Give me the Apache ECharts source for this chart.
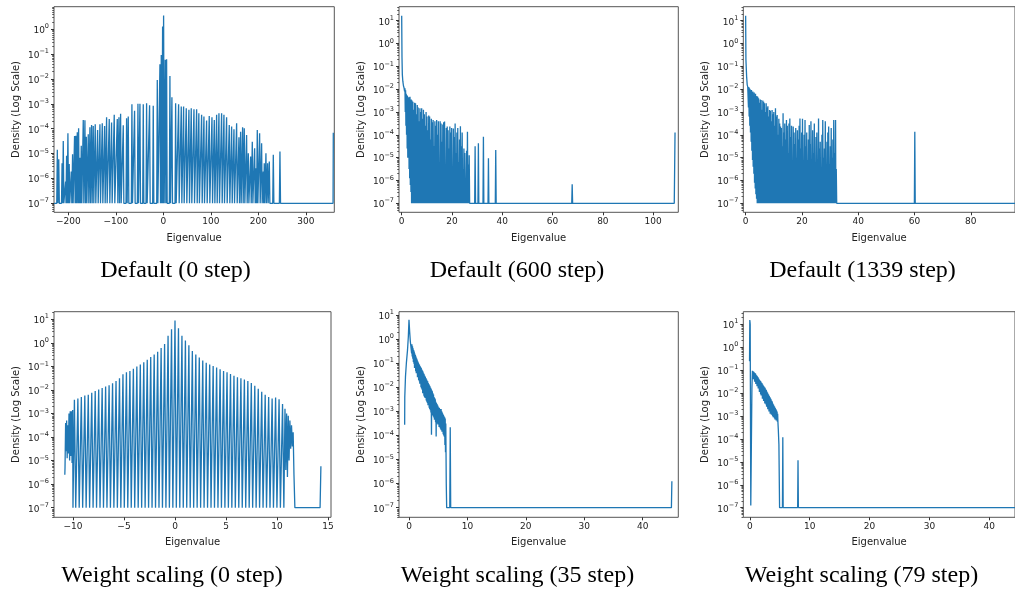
<!DOCTYPE html>
<html><head><meta charset="utf-8">
<script src="https://cdn.jsdelivr.net/npm/echarts@6/dist/echarts.min.js"></script>
<style>html,body{margin:0;padding:0;background:#fff}#c{width:1015px;height:592px}</style>
</head><body><div id="c"></div>
<script>
// ---------- DATA (eigenvalue, log10 density); density floor = 1e-7 ----------
const FLOOR = -7;
const captions = ['Default (0 step)','Default (600 step)','Default (1339 step)',
  'Weight scaling (0 step)','Weight scaling (35 step)','Weight scaling (79 step)'];

// Panel 1: Default (0 step)
const p1XTicks = [-200,-100,0,100,200,300];
const p1YTicks = [-7,-6,-5,-4,-3,-2,-1,0];
const p1Line = [[-230,-7],[357.4,-7],[357.9,-4.16]];
const p1Spikes = [[-223,-4.85],[-220,-5.23],[-213,-5.39],[-210.5,-4.49],[-205.6,-6.13],[-203.5,-5.09],[-200.7,-4.18],[-198,-5.42],[-193.7,-5.72],[-190.9,-5.03],
 [-186.7,-4.29],[-183.9,-4.28],[-181,-4.14],[-178.2,-3.98],[-175.4,-5.17],[-172.6,-4.69],[-168.4,-3.65],[-164.9,-3.66],[-162,-4.32],[-157.9,-4.22],
 [-154.4,-3.94],[-150.9,-3.85],[-147.4,-3.89],[-143.2,-3.82],[-138.2,-4.05],[-133.3,-3.82],[-128.4,-3.78],[-123.5,-3.89],[-119.3,-3.54],[-113.7,-3.61],
 [-108.8,-3.75],[-103.2,-3.44],[-96.8,-3.61],[-93.3,-3.54],[-89.8,-3.40],[-84.2,-3.86],[-77.2,-3.58],[-73.7,-3.51],[-66,-3.02],[-60.4,-3.28],
 [-53.3,-3.0],[-49.1,-3.0],[-42.1,-3.02],[-35.1,-2.98],[-28.8,-3.06],[-21.1,-3.08],[-12.6,-2.04],[-7,-1.41],[-4.2,-1.03],[-1.4,0.11],
 [0.7,0.55],[4.2,-1.23],[7,-1.21],[14,-1.88],[18.2,-2.73],[26,-2.98],[32.3,-3.02],[37.9,-3.11],[42.8,-3.11],[48.4,-3.18],
 [54,-3.24],[58.9,-3.18],[64.6,-3.22],[70.2,-3.22],[74.9,-3.38],[80.7,-3.44],[85.6,-3.51],[91.2,-3.67],[96.8,-3.49],[102.5,-3.54],
 [107.4,-3.65],[112.3,-3.44],[117.2,-3.38],[122.8,-3.38],[127.7,-3.44],[133.3,-3.54],[138.9,-3.85],[143.9,-3.91],[148.8,-4.02],[154.4,-3.78],
 [159.3,-4.34],[162.8,-4.12],[167,-3.94],[170.5,-3.98],[175.4,-4.25],[179,-4.99],[183.9,-5.12],[187.4,-4.52],[192.3,-4.79],[195.1,-5.59],
 [197.9,-4.05],[202.8,-4.18],[207,-4.58],[210.5,-5.72],[212.6,-5.39],[216.1,-4.99],[219.6,-5.39],[223.2,-5.32],[231.6,-5.05],[245.6,-4.92]];

// Panel 2: Default (600 step)
const p2XTicks = [0,20,40,60,80,100];
const p2YTicks = [-7,-6,-5,-4,-3,-2,-1,0,1];
const p2Line = [[0,1.22],[0.12,-0.6],[0.25,-1.35],[0.45,-1.65],[0.7,-1.85],[0.95,-1.95],[1.15,-2.1],[1.3,-1.96],[1.42,-3.0],[1.55,-2.05],
 [1.68,-3.6],[1.8,-2.2],[1.93,-4.0],[2.05,-2.26],[2.18,-4.6],[2.3,-2.3],[2.43,-5.0],[2.55,-2.4],[2.68,-4.4],[2.8,-2.35],
 [2.93,-5.5],[3.05,-2.5],[3.18,-5.9],[3.3,-2.33],[3.43,-6.2],[3.55,-2.6],[3.68,-6.5],[3.8,-2.45],[3.93,-6.9],[108.4,-7],[108.7,-3.9]];
const p2Spikes = [[4.1,-2.5],[4.45,-2.55],[4.8,-2.9],[5.15,-2.6],[5.5,-2.62],[5.85,-3.1],[6.2,-2.69],[6.55,-2.8],[6.9,-3.4],[7.25,-2.84],
 [7.6,-3.0],[7.95,-2.84],[8.3,-3.3],[8.65,-2.9],[9.0,-3.1],[9.35,-3.6],[9.7,-3.0],[10.05,-3.2],[10.4,-3.8],[10.75,-3.15],
 [11.1,-3.2],[11.45,-4.2],[11.8,-3.3],[12.15,-3.45],[12.5,-3.35],[12.85,-4.5],[13.2,-3.4],[13.55,-3.6],[13.9,-3.35],[14.25,-4.0],
 [14.6,-3.4],[14.95,-5.2],[15.3,-3.4],[15.65,-3.5],[16.0,-4.3],[16.35,-3.55],[16.7,-3.45],[17.05,-3.42],[17.4,-5.5],[17.75,-3.7],
 [18.1,-3.64],[18.45,-3.8],[18.8,-4.6],[19.15,-3.64],[19.5,-3.9],[19.85,-3.7],[20.2,-5.8],[20.55,-3.72],[20.9,-4.1],[21.25,-3.5],
 [21.6,-4.8],[21.95,-3.9],[22.3,-3.7],[22.65,-5.2],[23.0,-4.2],[23.35,-3.62],[23.7,-4.5],[24.05,-3.9],[24.4,-5.5],[24.75,-4.6],
 [25.1,-4.8],[25.45,-5.9],[25.8,-4.7],[26.15,-3.86],[26.5,-5.3],[26.85,-4.9],
 [29.2,-4.5],[30.5,-4.37],[32.5,-4.08],[34.5,-5.03],[37.4,-4.66],[67.8,-6.17]];

// Panel 3: Default (1339 step)
const p3XTicks = [0,20,40,60,80];
const p3YTicks = [-7,-6,-5,-4,-3,-2,-1,0,1];
const p3Line = [[0,1.22],[0.1,-0.7],[0.2,-1.0],[0.35,-1.45],[0.55,-1.8],[0.75,-1.9],[0.9,-1.82],[1.0,-2.8],[1.12,-1.9],[1.24,-3.2],
 [1.36,-1.96],[1.48,-3.6],[1.6,-2.0],[1.72,-3.9],[1.84,-2.1],[1.96,-4.3],[2.08,-2.04],[2.2,-4.7],[2.32,-2.15],[2.44,-5.1],
 [2.56,-2.1],[2.68,-5.4],[2.8,-2.25],[2.92,-5.7],[3.04,-2.15],[3.16,-6.1],[3.28,-2.3],[3.4,-6.35],[3.52,-2.2],[3.64,-6.6],
 [3.76,-2.35],[3.88,-6.8],[4.0,-2.3],[4.12,-7],[95.7,-7]];
const p3Spikes = [[4.3,-2.33],[4.6,-2.4],[4.9,-2.6],[5.2,-2.45],[5.5,-2.47],[5.8,-2.9],[6.1,-2.5],[6.4,-2.55],[6.7,-2.62],[7.0,-3.0],
 [7.3,-2.62],[7.6,-2.8],[7.9,-2.75],[8.2,-3.2],[8.5,-2.91],[8.8,-2.95],[9.1,-3.4],[9.4,-2.91],[9.7,-3.1],[10.0,-3.0],
 [10.3,-3.6],[10.6,-2.84],[10.9,-3.2],[11.2,-3.13],[11.5,-4.0],[11.8,-3.3],[12.1,-3.5],[12.4,-3.64],[12.7,-3.7],[13.0,-4.5],
 [13.3,-3.06],[13.6,-3.9],[13.9,-3.5],[14.2,-4.2],[14.5,-3.35],[14.8,-3.6],[15.1,-4.8],[15.4,-3.5],[15.7,-3.28],[16.0,-4.1],
 [16.3,-3.6],[16.6,-5.2],[16.9,-3.64],[17.2,-3.9],[17.5,-4.4],[17.8,-3.7],[18.1,-5.0],[18.4,-3.8],[18.7,-4.2],[19.0,-3.6],
 [19.3,-3.28],[19.6,-4.6],[19.9,-3.9],[20.2,-3.3],[20.5,-5.4],[20.8,-4.0],[21.1,-3.35],[21.4,-4.5],[21.7,-3.9],[22.0,-5.1],
 [22.3,-4.2],[22.6,-3.57],[22.9,-4.4],[23.2,-3.4],[23.5,-5.6],[23.8,-3.8],[24.1,-4.8],[24.4,-3.5],[24.7,-5.2],[25.0,-4.1],
 [25.3,-3.9],[25.6,-5.5],[25.9,-3.28],[26.2,-4.6],[26.5,-4.3],[26.8,-5.8],[27.1,-4.0],[27.4,-3.35],[27.7,-5.0],[28.0,-4.6],
 [28.3,-3.4],[28.6,-5.6],[28.9,-4.3],[29.2,-3.9],[29.5,-3.64],[29.8,-5.3],[30.1,-4.5],[30.4,-3.7],[30.7,-5.0],[31.0,-4.2],
 [31.3,-3.35],[31.6,-4.8],[31.95,-3.35],[32.2,-5.5],[60.1,-3.86]];

// Panel 4: Weight scaling (0 step)
const p4XTicks = [-10,-5,0,5,10,15];
const p4YTicks = [-7,-6,-5,-4,-3,-2,-1,0,1];
const p4Line = [[-10.8,-5.6],[-10.78,-5.3],[-10.72,-3.4],[-10.67,-4.6],[-10.62,-3.3],[-10.57,-4.9],[-10.51,-3.5],[-10.45,-4.7],[-10.39,-3.0],[-10.33,-5.0],
 [-10.27,-2.9],[-10.21,-4.8],[-10.15,-2.9],[-10.09,-5.1],[-10.03,-2.85],[-10.0,-7],
 [10.78,-2.8],[10.86,-5.4],[10.94,-3.0],[11.02,-5.7],[11.1,-3.1],[11.18,-5.0],[11.26,-3.3],[11.34,-4.5],[11.42,-3.5],[11.5,-4.4],
 [11.58,-3.8],[11.66,-5.6],[11.75,-7],[14.22,-7],[14.3,-5.24]];
const p4Comb = [[-9.86,-2.42],[-9.52,-2.36],[-9.18,-2.3],[-8.84,-2.24],[-8.5,-2.2],[-8.16,-2.12],[-7.82,-2.05],[-7.48,-1.98],[-7.14,-1.92],[-6.8,-1.85],
 [-6.46,-1.8],[-6.12,-1.72],[-5.78,-1.62],[-5.44,-1.5],[-5.1,-1.33],[-4.76,-1.25],[-4.42,-1.2],[-4.08,-1.1],[-3.74,-1.0],[-3.4,-0.92],
 [-3.06,-0.82],[-2.72,-0.72],[-2.38,-0.6],[-2.04,-0.5],[-1.7,-0.38],[-1.36,-0.22],[-1.02,-0.05],[-0.68,0.3],[-0.34,0.58],[0,0.95],
 [0.34,0.62],[0.68,0.3],[1.02,0.1],[1.36,-0.1],[1.7,-0.35],[2.04,-0.5],[2.38,-0.62],[2.72,-0.75],[3.06,-0.85],[3.4,-0.92],
 [3.74,-0.98],[4.08,-1.05],[4.42,-1.12],[4.76,-1.2],[5.1,-1.25],[5.44,-1.32],[5.78,-1.4],[6.12,-1.46],[6.46,-1.5],[6.8,-1.56],
 [7.14,-1.62],[7.48,-1.7],[7.82,-1.82],[8.16,-1.95],[8.5,-2.08],[8.84,-2.2],[9.18,-2.3],[9.52,-2.36],[9.86,-2.32],[10.2,-2.4],[10.54,-2.6]];

// Panel 5: Weight scaling (35 step)
const p5XTicks = [0,10,20,30,40];
const p5YTicks = [-7,-6,-5,-4,-3,-2,-1,0,1];
const p5Line = [[-0.74,-3.56],[-0.72,-2.4],[-0.6,-1.55],[-0.45,-1.0],[-0.25,-0.45],[-0.11,0.11],[0,0.8],[0.11,0.32],[0.23,-0.1],
 [6.3,-3.5],[6.38,-6.0],[6.45,-7],[6.98,-7],[7.06,-3.66],[7.14,-7],[44.92,-7],[45.0,-5.9]];
// [eigenvalue, upper, lower] of the noisy band
const p5Band = [[0.4,-0.15,-0.6],[0.5,-0.22,-0.72],[0.6,-0.3,-0.82],[0.7,-0.38,-0.95],[0.8,-0.45,-1.02],[0.9,-0.52,-1.2],[1.0,-0.6,-1.18],[1.1,-0.66,-1.33],
 [1.2,-0.72,-1.42],[1.3,-0.8,-1.4],[1.4,-0.85,-1.58],[1.5,-0.92,-1.55],[1.6,-0.97,-1.7],[1.7,-1.02,-1.75],[1.8,-1.07,-1.85],[1.9,-1.12,-1.82],
 [2.0,-1.16,-2.0],[2.1,-1.2,-2.05],[2.2,-1.26,-2.1],[2.3,-1.3,-2.25],[2.4,-1.35,-2.18],[2.5,-1.42,-2.35],[2.6,-1.46,-2.4],[2.7,-1.52,-2.45],
 [2.8,-1.56,-2.32],[2.9,-1.62,-2.55],[3.0,-1.67,-2.6],[3.1,-1.72,-2.65],[3.2,-1.75,-2.75],[3.3,-1.82,-2.7],[3.4,-1.86,-2.85],[3.5,-1.92,-2.9],
 [3.6,-1.96,-2.95],[3.7,-2.02,-3.05],[3.8,-2.06,-3.97],[3.9,-2.12,-3.1],[4.0,-2.17,-3.15],[4.1,-2.25,-3.2],[4.2,-2.3,-3.25],[4.3,-2.4,-3.35],
 [4.4,-2.45,-3.25],[4.5,-2.5,-3.45],[4.6,-2.6,-4.04],[4.7,-2.65,-3.45],[4.8,-2.7,-3.5],[4.9,-2.75,-3.55],[5.0,-2.8,-3.45],[5.1,-2.85,-3.65],
 [5.2,-2.85,-3.6],[5.3,-2.9,-3.7],[5.4,-2.95,-3.75],[5.5,-2.9,-3.78],[5.6,-3.0,-3.85],[5.7,-3.05,-3.8],[5.8,-3.1,-3.95],[5.9,-3.15,-4.0],
 [6.0,-3.2,-4.05],[6.1,-3.25,-4.4],[6.2,-3.3,-4.7]];

// Panel 6: Weight scaling (79 step)
const p6XTicks = [0,10,20,30,40];
const p6YTicks = [-7,-6,-5,-4,-3,-2,-1,0,1];
const p6Line = [[-0.05,-0.61],[0,1.19],[0.06,1.0],[0.16,-6.9],[0.24,-6.95],[0.35,-1.8],[0.43,-1.03],
 [4.76,-3.6],[4.86,-4.25],[4.97,-7],[44.3,-7]];
const p6Band = [[0.45,-1.02,-1.3],[0.55,-1.05,-1.4],[0.65,-1.07,-1.38],[0.75,-1.1,-1.5],[0.85,-1.13,-1.45],[0.95,-1.15,-1.6],[1.05,-1.2,-1.55],
 [1.15,-1.23,-1.7],[1.25,-1.27,-1.65],[1.35,-1.3,-1.8],[1.45,-1.35,-1.75],[1.55,-1.4,-1.95],[1.65,-1.43,-1.9],[1.75,-1.47,-2.05],
 [1.85,-1.5,-2.1],[1.95,-1.55,-2.05],[2.05,-1.57,-2.25],[2.15,-1.63,-2.2],[2.25,-1.67,-2.35],[2.35,-1.7,-2.3],[2.45,-1.75,-2.45],
 [2.55,-1.77,-2.4],[2.65,-1.83,-2.5],[2.75,-1.87,-2.6],[2.85,-1.93,-2.55],[2.95,-1.97,-2.7],[3.05,-2.03,-2.65],[3.15,-2.07,-2.8],
 [3.25,-2.13,-2.75],[3.35,-2.17,-2.9],[3.45,-2.23,-2.85],[3.55,-2.27,-2.95],[3.65,-2.33,-2.9],[3.75,-2.37,-3.0],[3.85,-2.45,-3.05],
 [3.95,-2.5,-3.0],[4.05,-2.55,-3.1],[4.15,-2.6,-3.15],[4.25,-2.65,-3.1],[4.35,-2.7,-3.2],[4.45,-2.75,-3.15],[4.55,-2.8,-3.25],[4.65,-2.9,-3.3]];
const p6Spikes = [[5.51,-3.93],[8.05,-4.93]];

// ---------- build line vertices ----------
function buildPoints(line, spikes, hw, band, dx) {
  const pts = line.map(p => [p[0], p[1]]);
  (spikes || []).forEach(s => { pts.push([s[0] - hw, FLOOR], [s[0], s[1]], [s[0] + hw, FLOOR]); });
  (band || []).forEach(b => { pts.push([b[0], b[1]], [b[0] + dx, b[2]]); });
  pts.sort((a, b) => a[0] - b[0]);
  return pts;
}

const panels = [
  {data: buildPoints(p1Line, p1Spikes, 1.2), xMin: -230, xMax: 360, yMin: -7.362, yMax: 0.909, xTicks: p1XTicks, yTicks: p1YTicks},
  {data: buildPoints(p2Line, p2Spikes, 0.17), xMin: -1.07, xMax: 110, yMin: -7.394, yMax: 1.613, xTicks: p2XTicks, yTicks: p2YTicks},
  {data: buildPoints(p3Line, p3Spikes, 0.15), xMin: -0.83, xMax: 95.7, yMin: -7.394, yMax: 1.613, xTicks: p3XTicks, yTicks: p3YTicks},
  {data: buildPoints(p4Line, p4Comb, 0.13), xMin: -11.86, xMax: 15.29, yMin: -7.408, yMax: 1.323, xTicks: p4XTicks, yTicks: p4YTicks},
  {data: buildPoints(p5Line, [], 0, p5Band, 0.05), xMin: -1.71, xMax: 46.1, yMin: -7.398, yMax: 1.137, xTicks: p5XTicks, yTicks: p5YTicks},
  {data: buildPoints(p6Line, p6Spikes, 0.06, p6Band, 0.05), xMin: -1.09, xMax: 44.3, yMin: -7.419, yMax: 1.55, xTicks: p6XTicks, yTicks: p6YTicks}
];

// ---------- layout / style ----------
const layout = [
  {left: 54, top: 6.7, width: 280.3, height: 205.6},
  {left: 399, top: 6.7, width: 279.3, height: 205.6},
  {left: 743.3, top: 6.7, width: 280, height: 205.6},
  {left: 54, top: 311.7, width: 277, height: 205.6},
  {left: 399, top: 311.7, width: 279.3, height: 205.6},
  {left: 743.3, top: 311.7, width: 280, height: 205.6}
];
const captionPos = [[175.5, 271], [517, 271], [862.5, 271], [172, 576], [517.5, 576], [861.5, 576]];
const FONT = 'DejaVu Sans';
const TXT = '#222';
const BLUE = '#1f77b4';

function minorTicks(lo, hi) {
  const out = [];
  for (let n = Math.floor(lo); n <= Math.ceil(hi); n++) {
    for (let k = 2; k <= 9; k++) {
      const v = n + Math.log10(k);
      if (v > lo && v < hi) out.push(v);
    }
  }
  return out;
}
function pow10Label(v) {
  const e = Math.round(v);
  return '{b|10}{s|' + (e < 0 ? '\u2212' + (-e) : String(e)) + '}';
}
function numLabel(v) { return v < 0 ? '\u2212' + (-v) : String(v); }

const grid = [], xAxis = [], yAxis = [], series = [];
panels.forEach((p, i) => {
  const L = layout[i];
  grid.push({left: L.left, top: L.top, width: L.width, height: L.height, show: true,
    borderColor: '#555', borderWidth: 1, backgroundColor: 'transparent'});
  xAxis.push({gridIndex: i, type: 'value', min: p.xMin, max: p.xMax, position: 'bottom',
    axisLine: {show: false, onZero: false}, splitLine: {show: false},
    axisTick: {show: true, customValues: p.xTicks, length: 3, lineStyle: {color: '#333', width: 1}},
    axisLabel: {customValues: p.xTicks, formatter: numLabel, fontSize: 9, fontFamily: FONT, color: TXT, margin: 5},
    name: 'Eigenvalue', nameLocation: 'middle', nameGap: i < 3 ? 21 : 20,
    nameTextStyle: {fontSize: 10, fontFamily: FONT, color: TXT}});
  yAxis.push({gridIndex: i, type: 'value', min: p.yMin, max: p.yMax, position: 'left',
    axisLine: {show: false, onZero: false}, splitLine: {show: false},
    axisTick: {show: true, customValues: p.yTicks, length: 3, lineStyle: {color: '#333', width: 1}},
    axisLabel: {customValues: p.yTicks, formatter: pow10Label, margin: 5,
      rich: {b: {fontSize: 9, fontFamily: FONT, color: TXT, lineHeight: 12, verticalAlign: 'bottom'},
             s: {fontSize: 6.5, fontFamily: FONT, color: TXT, lineHeight: 12, verticalAlign: 'top'}}},
    name: 'Density (Log Scale)', nameLocation: 'middle', nameRotate: 90, nameGap: 33,
    nameTextStyle: {fontSize: 10, fontFamily: FONT, color: TXT}});
  yAxis.push({gridIndex: i, type: 'value', min: p.yMin, max: p.yMax, position: 'left',
    axisLine: {show: false, onZero: false}, splitLine: {show: false},
    axisTick: {show: true, customValues: minorTicks(p.yMin, p.yMax), length: 1.8, lineStyle: {color: '#333', width: 0.8}},
    axisLabel: {show: false}});
  series.push({type: 'line', xAxisIndex: i, yAxisIndex: 2 * i, data: p.data, showSymbol: false, symbol: 'none',
    lineStyle: {color: BLUE, width: 1.3}, silent: true, animation: false});
});

const graphic = captions.map((t, i) => ({type: 'text', x: captionPos[i][0], y: captionPos[i][1], silent: true,
  style: {text: t, fontFamily: 'Liberation Serif', fontSize: 24, fill: '#000', textAlign: 'center', textVerticalAlign: 'middle'}}));

const chart = echarts.init(document.getElementById('c'), null, {renderer: 'canvas'});
chart.setOption({animation: false, backgroundColor: '#fff', grid, xAxis, yAxis, series, graphic});
</script></body></html>
